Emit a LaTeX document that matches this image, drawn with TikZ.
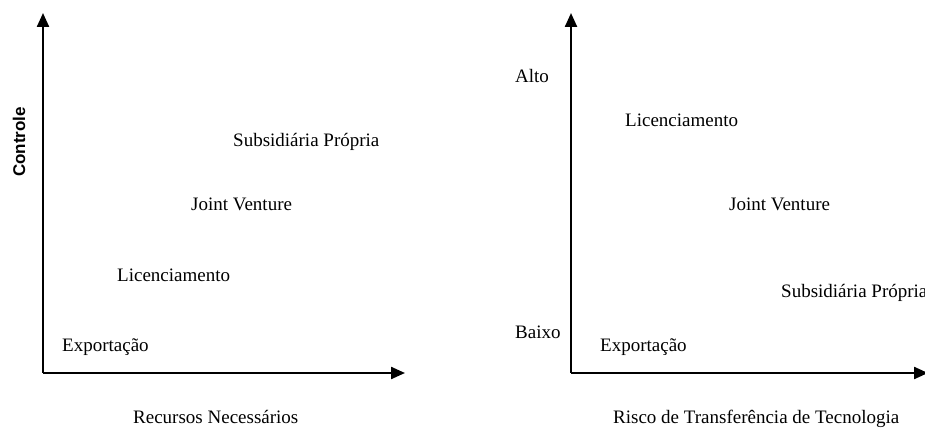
\documentclass[tikz,border=0pt]{standalone}
\usepackage{fontspec}
\setmainfont{Liberation Serif}
\newfontfamily\axisfont{Liberation Sans}
\usetikzlibrary{arrows.meta}
\begin{document}
\begin{tikzpicture}[x=1pt,y=1pt,
  axisline/.style={line width=2.3pt,-{Triangle[length=14pt,width=12pt]}},
  lbl/.style={inner sep=0pt,anchor=base west,font=\fontsize{19}{22}\selectfont}]
\clip (0,0) rectangle (925,428);
% left chart
\coordinate (o1) at (43,55);
\coordinate (t1) at (43,415);
\coordinate (e1) at (405,55);
\draw[axisline] (o1) -- (t1);
\draw[axisline] (o1) -- (e1);
\node[inner sep=0pt,rotate=90,font=\axisfont\bfseries\fontsize{17}{20}\selectfont] (ctl) at (19,286) {Controle};
\node[lbl] (sp1) at (233,281) {Subsidiária Própria};
\node[lbl] (jv1) at (191,217) {Joint Venture};
\node[lbl] (li1) at (117,146) {Licenciamento};
\node[lbl] (ex1) at (62,76) {Exportação};
\node[lbl] (rn) at (133,5) {Recursos Necessários};
% right chart
\coordinate (o2) at (571,55);
\coordinate (t2) at (571,415);
\coordinate (e2) at (928,55);
\draw[axisline] (o2) -- (t2);
\draw[axisline] (o2) -- (e2);
\node[lbl] (alto) at (515,345) {Alto};
\node[lbl] (baixo) at (515,89) {Baixo};
\node[lbl] (li2) at (625,301) {Licenciamento};
\node[lbl] (jv2) at (729,217) {Joint Venture};
\node[lbl] (sp2) at (781,130) {Subsidiária Própria};
\node[lbl] (ex2) at (600,76) {Exportação};
\node[lbl] (rt) at (613,5) {Risco de Transferência de Tecnologia};
\end{tikzpicture}
\end{document}
